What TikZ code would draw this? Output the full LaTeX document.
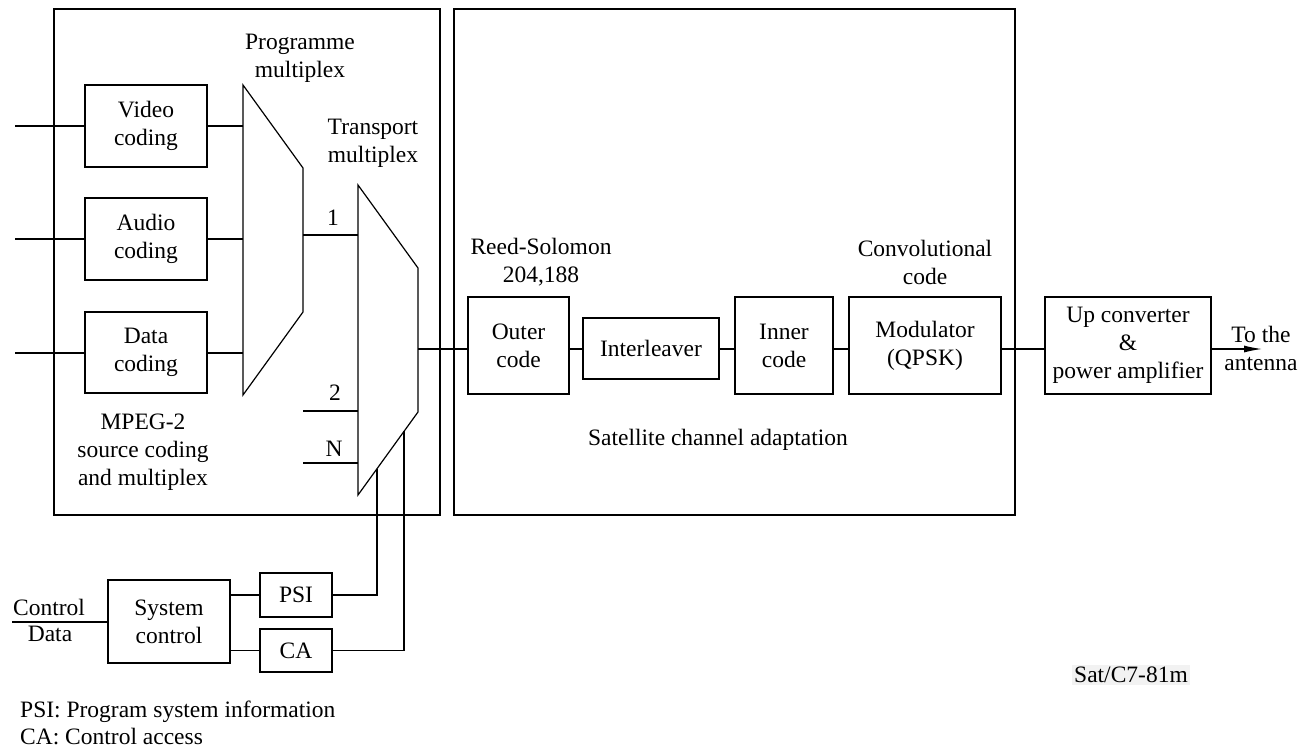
\documentclass[tikz,border=0pt]{standalone}
\usepackage{fontspec}
\setmainfont{Liberation Serif}
\usetikzlibrary{arrows.meta,calc}
\begin{document}
\begin{tikzpicture}[x=1pt,y=-1pt,
  every node/.style={font=\fontsize{23.5}{28}\selectfont, inner sep=0pt},
  blk/.style={draw, line width=1.2pt, align=center},
  frm/.style={draw, line width=1.4pt},
  conn/.style={line width=1.2pt},
  heavy/.style={line width=2pt},
  muxline/.style={line width=1.2pt, line join=miter},
  lbl/.style={align=center}]
\useasboundingbox (0,0) rectangle (1310,750);

% frames
\node[frm, minimum width=386, minimum height=506] (srcframe) at (247,262) {};
\node[frm, minimum width=561, minimum height=506] (satframe) at (734.5,262) {};

% source coding boxes
\node[blk, minimum width=122, minimum height=82] (video) at (146,126) {Video\\coding};
\node[blk, minimum width=122, minimum height=82] (audio) at (146,239) {Audio\\coding};
\node[blk, minimum width=122, minimum height=81] (data) at (146,352.5) {Data\\coding};

% programme multiplex
\coordinate (pmA) at (243,85);
\coordinate (pmB) at (303,168);
\coordinate (pmC) at (303,312);
\coordinate (pmD) at (243,395);
\draw[muxline] (pmA) -- (pmB) -- (pmC) -- (pmD) -- cycle;

% transport multiplex
\coordinate (tmA) at (358,185);
\coordinate (tmB) at (418,268);
\coordinate (tmC) at (418,412);
\coordinate (tmD) at (358,495);
\draw[muxline] (tmA) -- (tmB) -- (tmC) -- (tmD) -- cycle;

% inputs
\coordinate (in1) at (15,126);
\coordinate (in2) at (15,239);
\coordinate (in3) at (15,352.5);
\draw[heavy] (in1) -- (video.west);
\draw[heavy] (in2) -- (audio.west);
\draw[heavy] (in3) -- (data.west);
\draw[heavy] (video.east) -- (video.east -| pmA);
\draw[heavy] (audio.east) -- (audio.east -| pmA);
\draw[heavy] (data.east) -- (data.east -| pmA);

% programme -> transport
\coordinate (pmOut) at (303,235);
\draw[heavy] (pmOut) -- (pmOut -| tmA);
\coordinate (prog2) at (303,411);
\coordinate (progN) at (303,463);
\draw[heavy] (prog2) -- (prog2 -| tmA);
\draw[heavy] (progN) -- (progN -| tmA);
\node (l1) at (333,218) {1};
\node (l2) at (335,393) {2};
\node (lN) at (334,449) {N};

% labels in source frame
\node[lbl] (pmlbl) at (300,58.5) {Programme\\multiplex};
\node[lbl] (tmlbl) at (373,143.5) {Transport\\multiplex};
\node[lbl] (mpeglbl) at (143,452) {MPEG-2\\source coding\\and multiplex};

% channel chain
\node[blk, minimum width=101, minimum height=97] (outer) at (518.5,345.5) {Outer\\code};
\node[blk, minimum width=136, minimum height=61] (inter) at (651,348.5) {Interleaver};
\node[blk, minimum width=98, minimum height=97] (inner) at (784,345.5) {Inner\\code};
\node[blk, minimum width=152, minimum height=97] (mod) at (925,345.5) {Modulator\\(QPSK)};
\node[blk, minimum width=166, minimum height=97] (up) at (1128,345.5) {Up converter\\\&\\power amplifier};

\coordinate (tmOut) at (418,349);
\coordinate (antenna) at (1262,349);
\draw[conn] (tmOut) -- (tmOut -| outer.west);
\draw[conn] (outer.east |- tmOut) -- (inter.west |- tmOut);
\draw[conn] (inter.east |- tmOut) -- (inner.west |- tmOut);
\draw[conn] (inner.east |- tmOut) -- (mod.west |- tmOut);
\draw[conn] (mod.east |- tmOut) -- (up.west |- tmOut);
\draw[conn, -{Latex[length=18pt,width=7pt]}] (up.east |- tmOut) -- (antenna);
\node[lbl] (antlbl) at (1261,348.5) {To the\\antenna};

\node[lbl] (rslbl) at (541,262.5) {Reed-Solomon\\204,188};
\node[lbl] (cvlbl) at (925,262.5) {Convolutional\\code};
\node (satlbl) at (718,440) {Satellite channel adaptation};

% system control
\node[blk, minimum width=122, minimum height=83] (sys) at (169,621.5) {System\\control};
\node[blk, minimum width=72, minimum height=44] (psi) at (296,595) {PSI};
\node[blk, minimum width=72, minimum height=43] (ca) at (296,650.5) {CA};
\draw[conn] (sys.east |- psi) -- (psi.west);
\draw[conn] (sys.east |- ca) -- (ca.west);
\coordinate (tmP) at ($(tmC)!0.683!(tmD)$);
\coordinate (tmQ) at ($(tmC)!0.233!(tmD)$);
\draw[conn] (psi.east) -| (tmP);
\draw[conn] (ca.east) -| (tmQ);

\coordinate (cd) at (12,622);
\draw[heavy] (cd) -- (cd -| sys.west);
\node (ctl) at (49,607) {Control};
\node (dat) at (50,634) {Data};

% legend
\node[anchor=west] (leg1) at (20,712) {PSI: Program system information};
\node[anchor=west] (leg2) at (20,737) {CA: Control access};

\node[fill=gray!10, inner xsep=2pt, inner ysep=2pt] (ref) at (1131,675) {Sat/C7-81m};
\end{tikzpicture}
\end{document}
